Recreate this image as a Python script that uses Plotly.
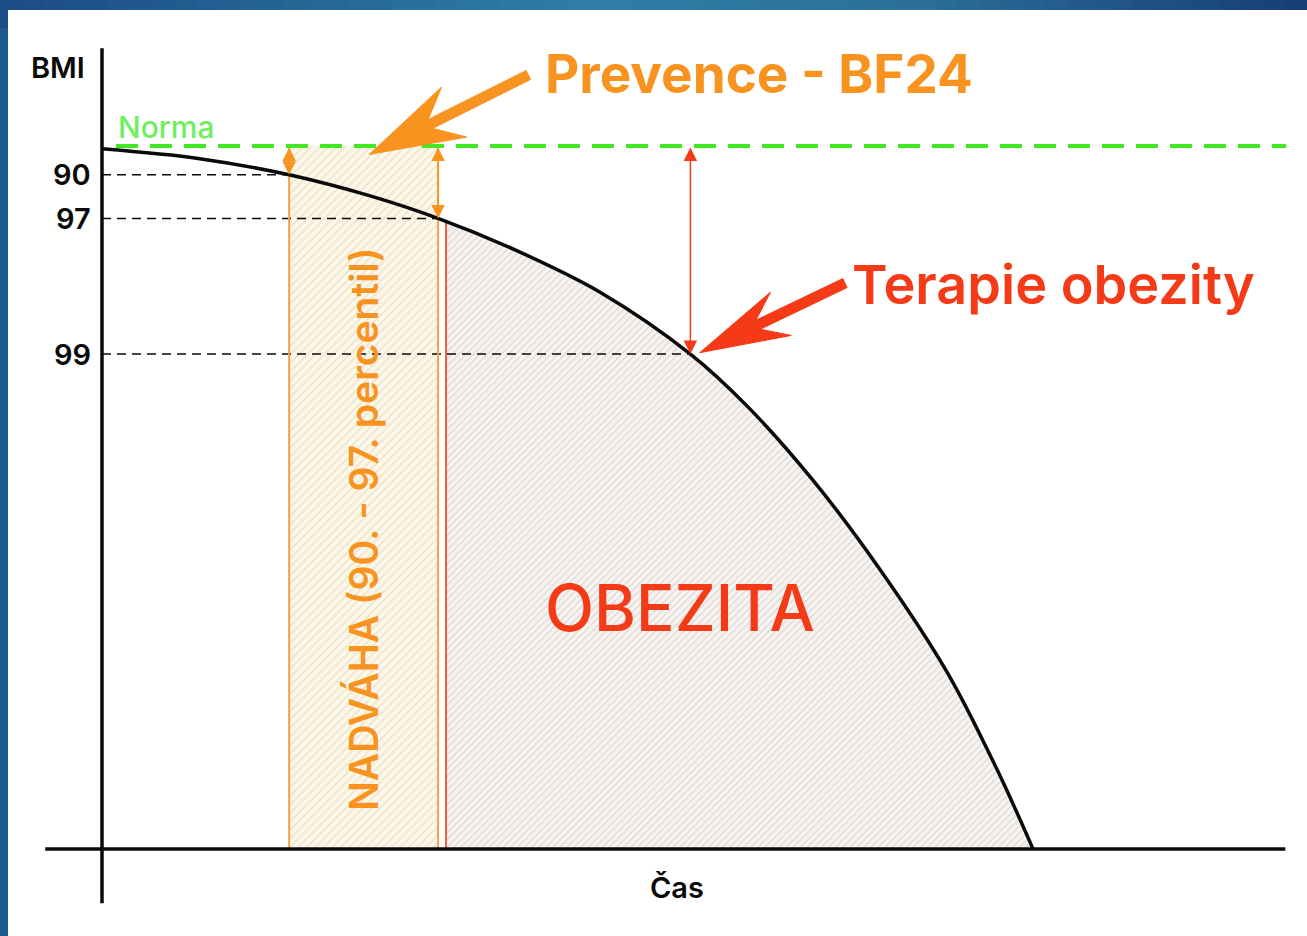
import numpy as np
import plotly.graph_objects as go

# ---------------- data ----------------
# BMI curve over time (arbitrary units: time 0..100, level 0..100 where 100 = norm)
curve_x = [0, 10.5, 20.1, 28.8, 36.1, 44.9, 53.5, 63.2, 69.3, 76.4, 83.6, 90.8, 96.1, 100]
curve_y = [99.6, 98.2, 95.9, 92.9, 89.7, 84.9, 79.2, 70.4, 63.0, 52.4, 39.7, 25.1, 11.4, 0]

percentile_labels = ["90", "97", "99"]
percentile_x = [20.1, 36.1, 63.2]
percentile_y = [95.9, 89.7, 70.4]

norm_level = 100
overweight_band = [20.1, 36.1]
obesity_start = 36.95

x_axis_extent = [-6.1, 127.1]
y_axis_extent = [-7.7, 113.9]
norm_extent = [1.5, 127.2]

# pointer arrows: (tail, tip)
prevence_arrow = [(45.8, 110.1), (28.7, 98.8)]
terapie_arrow = [(79.8, 80.5), (64.2, 70.6)]

# ---------------- styling ----------------
FONT = "Inter"
ORANGE = "#f7931e"
RED = "#f43a17"
GREEN = "#3fe81f"
NORMA_GREEN = "#6def5e"
BLACK = "#0a0a0a"
PX_PER_X = 9.31   # pixels per x unit (for isotropic arrow geometry)
PX_PER_Y = 7.03
SMOOTH = 1.0

fig = go.Figure()

# obesity hatched area under the curve
ob_y0 = float(np.interp(obesity_start, curve_x, curve_y))
ob_x = [obesity_start] + [x for x in curve_x if x > obesity_start]
ob_y = [ob_y0] + [y for x, y in zip(curve_x, curve_y) if x > obesity_start]
fig.add_trace(go.Scatter(
    x=ob_x, y=ob_y, mode="lines", line=dict(width=0, shape="spline", smoothing=SMOOTH),
    fill="tozeroy", fillcolor="#f6f3f1",
    fillpattern=dict(shape="/", fgcolor="#b3aba5", bgcolor="#f6f3f1", size=5, solidity=0.2),
    hoverinfo="skip", showlegend=False))

# overweight band (hatched beige)
bx0, bx1 = overweight_band
fig.add_trace(go.Scatter(
    x=[bx0, bx1, bx1, bx0, bx0], y=[0, 0, norm_level, norm_level, 0],
    mode="lines", line=dict(width=0), fill="toself", fillcolor="#fcf7e9",
    fillpattern=dict(shape="/", fgcolor="#d8c9a0", bgcolor="#fcf7e9", size=6, solidity=0.22),
    hoverinfo="skip", showlegend=False))

# black dashed percentile guide lines
for px_, py_ in zip(percentile_x, percentile_y):
    fig.add_trace(go.Scatter(x=[0, px_], y=[py_, py_], mode="lines",
                             line=dict(color=BLACK, width=1.5, dash="9px,6px"),
                             hoverinfo="skip", showlegend=False))

# orange band edges
for bx in overweight_band:
    fig.add_trace(go.Scatter(x=[bx, bx], y=[0, norm_level], mode="lines",
                             line=dict(color="#f4a24c", width=2),
                             hoverinfo="skip", showlegend=False))

# red obesity boundary
fig.add_trace(go.Scatter(x=[obesity_start, obesity_start], y=[0, ob_y0], mode="lines",
                         line=dict(color=RED, width=1.6),
                         hoverinfo="skip", showlegend=False))

# green norm line
fig.add_trace(go.Scatter(x=norm_extent, y=[norm_level, norm_level], mode="lines",
                         line=dict(color=GREEN, width=4, dash="22px,12px"),
                         hoverinfo="skip", showlegend=False))

# BMI curve
fig.add_trace(go.Scatter(x=curve_x, y=curve_y, mode="lines",
                         line=dict(color=BLACK, width=3.5, shape="spline", smoothing=SMOOTH),
                         hoverinfo="skip", showlegend=False))

# axes lines
fig.add_trace(go.Scatter(x=x_axis_extent, y=[0, 0], mode="lines",
                         line=dict(color=BLACK, width=3.5), hoverinfo="skip", showlegend=False))
fig.add_trace(go.Scatter(x=[0, 0], y=y_axis_extent, mode="lines",
                         line=dict(color=BLACK, width=3.5), hoverinfo="skip", showlegend=False))


# barbed pointer arrows built from tail/tip
def arrow_polygon(tail, tip, shaft_hw, head_len, head_hw, notch=0.72):
    t = np.array([tail[0] * PX_PER_X, tail[1] * PX_PER_Y])
    p = np.array([tip[0] * PX_PER_X, tip[1] * PX_PER_Y])
    d = (p - t) / np.linalg.norm(p - t)
    n = np.array([-d[1], d[0]])
    pts = [p,
           p - head_len * d + head_hw * n,
           p - notch * head_len * d + shaft_hw * n,
           t + shaft_hw * n,
           t - shaft_hw * n,
           p - notch * head_len * d - shaft_hw * n,
           p - head_len * d - head_hw * n,
           p]
    xs = [q[0] / PX_PER_X for q in pts]
    ys = [q[1] / PX_PER_Y for q in pts]
    return xs, ys


for (tail, tip), col, hl, hw in [(prevence_arrow, ORANGE, 95, 28), (terapie_arrow, RED, 90, 24)]:
    xs, ys = arrow_polygon(tail, tip, 5, hl, hw)
    fig.add_trace(go.Scatter(x=xs, y=ys, mode="lines", fill="toself", fillcolor=col,
                             line=dict(color=col, width=1), hoverinfo="skip", showlegend=False))

annotations = []

# double arrows (norm to curve)
arrow_specs = [(percentile_x[0], percentile_y[0], ORANGE),
               (percentile_x[1], percentile_y[1], ORANGE),
               (percentile_x[2], percentile_y[2], RED)]
for ax_, ay_, col in arrow_specs:
    annotations.append(dict(
        x=ax_, y=ay_, ax=ax_, ay=norm_level, xref="x", yref="y", axref="x", ayref="y",
        text="", showarrow=True, arrowside="end+start", arrowhead=2, startarrowhead=2,
        arrowsize=1.8, startarrowsize=1.8, arrowwidth=1.5, arrowcolor=col,
        standoff=0, startstandoff=0))


# texts
def txt(x, y, s, size, color, xanchor="center", weight=700, angle=0):
    annotations.append(dict(
        x=x, y=y, xref="x", yref="y", text=s,
        showarrow=False, xanchor=xanchor, yanchor="middle", textangle=angle,
        font=dict(family=FONT, size=size, color=color, weight=weight)))


txt(-4.7, 111.1, "BMI", 29, BLACK, weight=600)
for lab, py_ in zip(percentile_labels, percentile_y):
    txt(-1.0, py_, lab, 29, BLACK, xanchor="right", weight=600)
txt(1.5, 102.7, "Norma", 30, NORMA_GREEN, xanchor="left", weight=500)
txt(47.4, 110.3, "Prevence - BF24", 53, ORANGE, xanchor="left", weight=700)
txt(80.3, 80.3, "Terapie obezity", 54, RED, xanchor="left", weight=600)
txt(47.4, 34.4, "OBEZITA", 64, RED, xanchor="left", weight=500)
txt(28.0, 45.5, "NADVÁHA (90. - 97. percentil)", 39, ORANGE, angle=-90, weight=600)
txt(61.8, -5.5, "Čas", 29, BLACK, weight=600)

# frame: blue border (left and top, gradient on top), white panel
shapes = []
top_cols = [(0.0, (28, 76, 133)), (0.45, (46, 127, 166)), (0.7, (43, 112, 152)), (1.0, (22, 61, 118))]


def grad(t):
    for (t0, c0), (t1, c1) in zip(top_cols[:-1], top_cols[1:]):
        if t0 <= t <= t1:
            f = (t - t0) / (t1 - t0)
            return "rgb(%d,%d,%d)" % tuple(round(a + (b - a) * f) for a, b in zip(c0, c1))
    return "rgb(22,61,118)"


n = 60
for i in range(n):
    shapes.append(dict(type="rect", xref="paper", yref="paper", x0=i / n, x1=(i + 1) / n + 0.001,
                       y0=0.97, y1=1.0, fillcolor=grad((i + 0.5) / n), line=dict(width=0),
                       layer="below"))
shapes.append(dict(type="rect", xref="paper", yref="paper", x0=0.00612, x1=1.0,
                   y0=0.0, y1=0.98932, fillcolor="white", line=dict(width=0), layer="below"))

fig.update_layout(
    width=1307, height=936,
    margin=dict(l=0, r=0, t=0, b=0),
    paper_bgcolor="#1d5a8f", plot_bgcolor="rgba(0,0,0,0)",
    xaxis=dict(range=[-10.956, 129.43], visible=False, fixedrange=True),
    yaxis=dict(range=[-12.376, 120.77], visible=False, fixedrange=True),
    annotations=annotations, shapes=shapes, showlegend=False,
)

fig.write_html("out.html", config={"displayModeBar": False},
               post_script="document.body.style.margin='0';document.body.style.overflow='hidden';")
